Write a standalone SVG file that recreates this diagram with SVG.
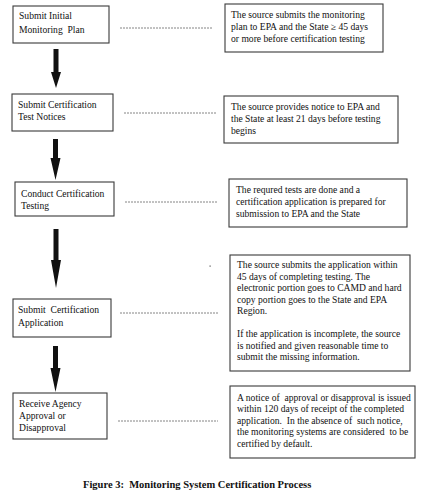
<svg xmlns="http://www.w3.org/2000/svg" width="432" height="503" viewBox="0 0 432 503">
<style>
.box{fill:#fff;stroke:#3a3a3a;stroke-width:1.1}
.t{font-family:"Liberation Serif","Times New Roman",serif;font-size:9.6px;fill:#111}
.d{stroke:#777;stroke-width:0.9;stroke-dasharray:2 1;fill:none}
.arr{fill:#111}
.cap{font-family:"Liberation Serif","Times New Roman",serif;font-size:10.5px;font-weight:bold;fill:#111}
</style>
<rect width="432" height="503" fill="#fff"/>
<g id="step1">
<rect class="box" x="13" y="6" width="96" height="37"/>
<text class="t" x="19" y="19">Submit Initial</text>
<text class="t" x="19" y="33" xml:space="preserve">Monitoring  Plan</text>
</g>
<g id="note1">
<rect class="box" x="225" y="4" width="158" height="48"/>
<text class="t" x="231" y="18">The source submits the monitoring</text>
<text class="t" x="231" y="30">plan to EPA and the State  ≥ 45 days</text>
<text class="t" x="231" y="42">or more before certification testing</text>
</g>
<g id="step2">
<rect class="box" x="12" y="94" width="101" height="37"/>
<text class="t" x="18" y="108">Submit Certification</text>
<text class="t" x="18" y="120">Test Notices</text>
</g>
<g id="note2">
<rect class="box" x="224" y="96" width="174" height="47"/>
<text class="t" x="231" y="110">The source provides notice to EPA and</text>
<text class="t" x="231" y="122">the State at least 21 days before testing</text>
<text class="t" x="231" y="134">begins</text>
</g>
<g id="step3">
<rect class="box" x="15" y="182" width="99" height="34"/>
<text class="t" x="21" y="197">Conduct Certification</text>
<text class="t" x="21" y="209">Testing</text>
</g>
<g id="note3">
<rect class="box" x="229" y="179" width="178" height="48"/>
<text class="t" x="236" y="193">The requred tests are done and a</text>
<text class="t" x="236" y="205">certification application is prepared for</text>
<text class="t" x="236" y="217">submission to EPA and the State</text>
</g>
<g id="step4">
<rect class="box" x="13" y="299" width="98" height="38"/>
<text class="t" x="18" y="313" xml:space="preserve">Submit  Certification</text>
<text class="t" x="18" y="326">Application</text>
</g>
<g id="note4">
<rect class="box" x="230" y="255" width="180" height="116"/>
<text class="t" x="237" y="268">The source submits the application within</text>
<text class="t" x="237" y="280">45 days of completing testing. The</text>
<text class="t" x="237" y="291">electronic portion goes to CAMD and hard</text>
<text class="t" x="237" y="303">copy portion goes to the State and EPA</text>
<text class="t" x="237" y="314">Region.</text>
<text class="t" x="237" y="337">If the application is incomplete, the source</text>
<text class="t" x="237" y="349">is notified and given reasonable time to</text>
<text class="t" x="237" y="360">submit the missing information.</text>
</g>
<g id="step5">
<rect class="box" x="13" y="393" width="94" height="46"/>
<text class="t" x="19" y="407">Receive Agency</text>
<text class="t" x="19" y="419">Approval or</text>
<text class="t" x="19" y="431">Disapproval</text>
</g>
<g id="note5">
<rect class="box" x="230" y="386" width="185" height="72"/>
<text class="t" x="237" y="401" xml:space="preserve">A notice of  approval or disapproval is issued</text>
<text class="t" x="237" y="412">within 120 days of receipt of the completed</text>
<text class="t" x="237" y="424" xml:space="preserve">application.  In the absence of  such notice,</text>
<text class="t" x="237" y="435" xml:space="preserve">the monitoring systems are considered  to be</text>
<text class="t" x="237" y="447">certified by default.</text>
</g>
<g id="connectors">
<line class="d" x1="120" y1="28" x2="213" y2="28"/>
<line class="d" x1="124" y1="113" x2="216" y2="113"/>
<line class="d" x1="125" y1="202" x2="218" y2="202"/>
<line class="d" x1="120" y1="313" x2="218" y2="313"/>
<line class="d" x1="118" y1="421" x2="218" y2="421"/>
<polygon class="arr" points="53.5,49 58.5,49 58.5,72 61,72 56,88 51,72 53.5,72"/>
<polygon class="arr" points="53,139 58,139 58,158 60.5,158 55.5,180 50.5,158 53,158"/>
<polygon class="arr" points="53.5,229 58.5,229 58.5,260 61,260 56,288 51,260 53.5,260"/>
<polygon class="arr" points="53,346 58,346 58,368 60.5,368 55.5,392 50.5,368 53,368"/>
</g>
<rect x="209.5" y="265.5" width="1.2" height="1.2" fill="#555"/>
<text class="cap" x="83" y="488" xml:space="preserve">Figure 3:  Monitoring System Certification Process</text>
</svg>
